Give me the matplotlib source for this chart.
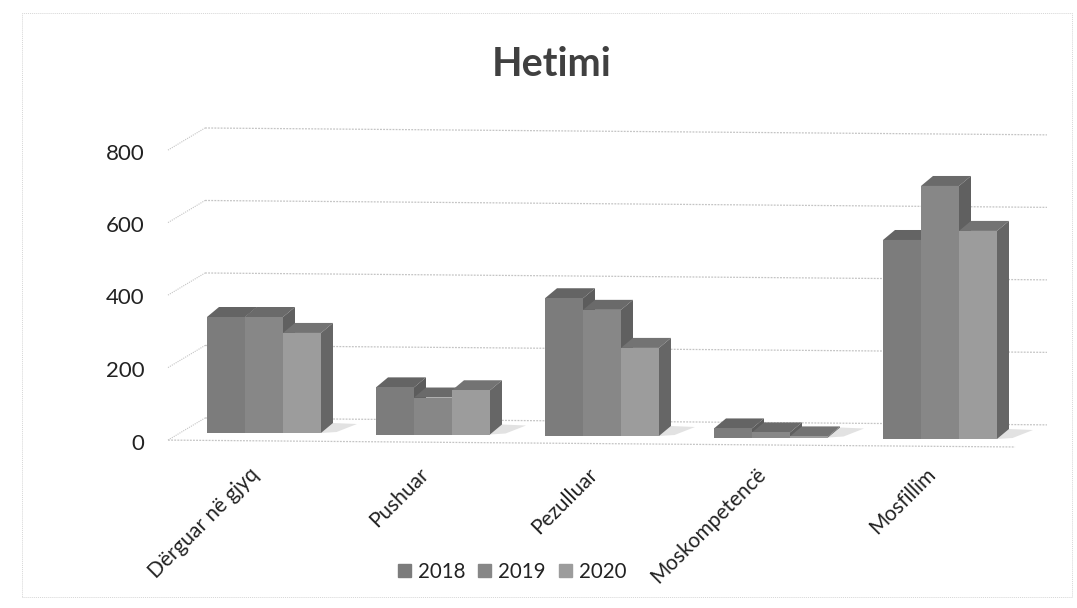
#!/usr/bin/python
import numpy as np
import matplotlib
matplotlib.use("Agg")
import matplotlib.pyplot as plt
from matplotlib.patches import Patch, Rectangle

plt.rcParams['font.family'] = ['Lato', 'DejaVu Sans']

# Values
categories = ['Dërguar në gjyq', 'Pushuar', 'Pezulluar', 'Moskompetencë', 'Mosfillim']
years = ['2018', '2019', '2020']
v2018 = [320, 130, 380, 25, 549]
v2019 = [320, 102, 348, 14, 698]
v2020 = [276, 122, 243, 3, 574]
yticks = [0, 200, 400, 600, 800]

W, H = 1077, 608
PX_X = 169.0     # pixels per category
PX_Y = 0.3625    # pixels per value unit

fig = plt.figure(figsize=(W / 100, H / 100), dpi=100, facecolor='white')
ax = fig.add_axes([150 / W, 1 - 450 / H, 910 / W, 350 / H])
ax.set_xlim((150 - 264) / PX_X, (1060 - 264) / PX_X)
ax.set_ylim(-11 / PX_Y, 339 / PX_Y)
for s in ax.spines.values():
    s.set_visible(False)

# Bar depth and the slight tilt of the floor, in data units
dx = 12 / PX_X
dy = 10 / PX_Y
width = 38 / PX_X
tilt = 1.5 / PX_Y

front_cols = ['#7c7c7c', '#878787', '#9c9c9c']
top_cols = ['#646464', '#6a6a6a', '#737373']
side_cols = ['#5c5c5c', '#606060', '#666666']
grid_col = '#c4c4c4'

# Back wall, side wall and floor lines
x_front, x_back, x_end, x_floor = -0.568, -0.349, 4.633, 4.444
wall_y0 = 58
wall_drop = 19
for v in yticks:
    ax.plot([x_front, x_back], [v - 3, v + wall_y0], color=grid_col, lw=0.8,
            ls=(0, (1, 1)), clip_on=False, zorder=1)
    ax.plot([x_back, x_end], [v + wall_y0, v + wall_y0 - wall_drop], color=grid_col,
            lw=0.9, ls=(0, (1.5, 1)), clip_on=False, zorder=1)
ax.plot([x_front, x_floor], [-3, -22], color=grid_col, lw=0.9, ls=(0, (1.5, 1)),
        clip_on=False, zorder=1)

series = [v2018, v2019, v2020]
z = 3
for i in range(len(categories)):
    base = (len(categories) - 1 - i) * tilt
    # soft shadow on the floor
    right = i + 1.5 * width
    ax.fill([right, right + dx, right + 3.0 * dx, right + 1.3 * dx],
            [base, base + dy, base + dy * 0.9, base + dy * 0.1],
            color='#e2e2e2', lw=0, zorder=2)
    for j, vals in enumerate(series):
        x0 = i + (j - 1.5) * width
        x1 = x0 + width
        top = base + vals[i]
        ax.fill([x0, x0 + dx, x1 + dx, x1], [top, top + dy, top + dy, top],
                color=top_cols[j], lw=0, zorder=z, clip_on=False)
        ax.fill([x1, x1 + dx, x1 + dx, x1], [base, base + dy, top + dy, top],
                color=side_cols[j], lw=0, zorder=z, clip_on=False)
        ax.bar(x0, vals[i], width=width, bottom=base, align='edge',
               color=front_cols[j], lw=0, zorder=z + 1, clip_on=False)
        z += 2

# Labels sit a little off the bars' own positions in the original
ax.set_yticks([v - 2.5 / PX_Y for v in yticks], labels=[str(v) for v in yticks])
ax.set_xticks([i - 15 / PX_X for i in range(len(categories))])
ax.set_xticklabels(categories, rotation=45, ha='right', rotation_mode='anchor',
                   fontsize=15, color='#222222')
ax.tick_params(axis='both', length=0)
ax.tick_params(axis='y', labelsize=16, labelcolor='#222222', pad=4)
ax.tick_params(axis='x', pad=10)

fig.text(552 / W, 1 - 64 / H, 'Hetimi', ha='center', va='center', fontsize=28.5,
         fontweight='bold', color='#404040')

handles = [Patch(color=c) for c in front_cols]
fig.legend(handles, years, loc='center', bbox_to_anchor=(512 / W, 1 - 572 / H), ncol=3,
           frameon=False, fontsize=14.8, handlelength=0.63, handleheight=0.63,
           handletextpad=0.35, columnspacing=0.63, labelcolor='#222222')

# Faint chart border left by the scan
fig.add_artist(Rectangle((22 / W, 1 - 597 / H), 1050 / W, 584 / H, transform=fig.transFigure,
                         fill=False, ec='#d6d6d6', lw=0.7, ls=(0, (1, 1))))

fig.savefig('out.png', dpi=100)
